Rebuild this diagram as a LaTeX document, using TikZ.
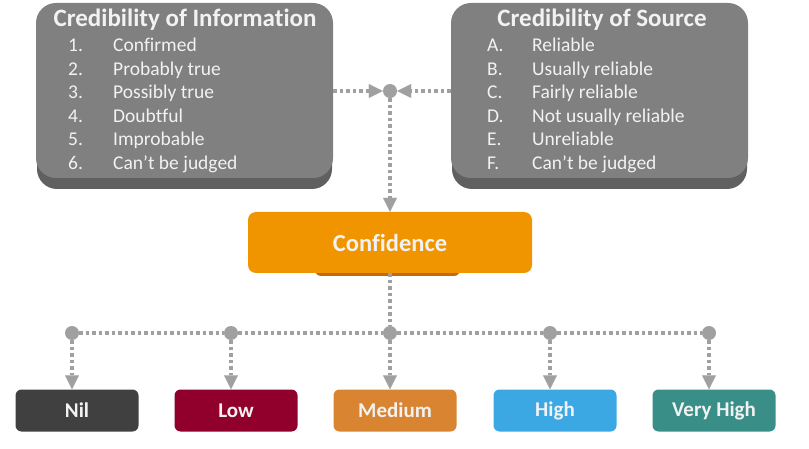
\documentclass[tikz,border=0pt]{standalone}
\usepackage{fontspec}
\setmainfont{Carlito}[Ligatures=NoCommon]
\usetikzlibrary{arrows.meta,positioning}
\definecolor{boxgray}{RGB}{128,128,128}
\definecolor{boxshade}{RGB}{96,96,96}
\definecolor{linkgray}{RGB}{160,160,160}
\definecolor{confcol}{RGB}{240,148,0}
\definecolor{confshade}{RGB}{200,104,0}
\definecolor{nilcol}{RGB}{64,64,64}
\definecolor{lowcol}{RGB}{145,0,45}
\definecolor{medcol}{RGB}{216,132,48}
\definecolor{highcol}{RGB}{59,168,228}
\definecolor{vhcol}{RGB}{58,142,136}
\definecolor{softwhite}{RGB}{242,242,242}
\tikzset{
  credbox/.style={fill=boxgray, rounded corners=20pt, minimum width=297pt, minimum height=175pt, inner sep=0pt},
  heading/.style={text=softwhite, inner sep=0pt, font=\fontsize{25}{25}\selectfont\bfseries},
  entry/.style={text=softwhite, inner sep=0pt, font=\fontsize{19.5}{19.5}\selectfont},
  link/.style={draw=linkgray, line width=3.5pt, dash pattern=on 3.5pt off 3pt},
  arrowed/.style={-{Triangle[length=14pt,width=14pt,line width=0.1pt]}},
  dot/.style={circle, fill=linkgray, minimum size=14pt, inner sep=0pt},
  grade/.style={rounded corners=6pt, minimum width=123pt, minimum height=42pt, text=softwhite, font=\fontsize{21}{21}\selectfont\bfseries}
}
\begin{document}
\begin{tikzpicture}[x=1pt,y=-1pt]
  \useasboundingbox (0,0) rectangle (809,449);
  % the two scales
  \fill[boxshade, rounded corners=20pt] (37,14) rectangle (332,189);
  \fill[boxshade, rounded corners=20pt] (452,14) rectangle (747,189);
  \node[credbox] (info) at (184.5,90.5) {};
  \node[credbox] (source) at (599.5,90.5) {};
  \node[heading, anchor=base] (infohead) at (185,27) {Credibility of Information};
  \node[heading, anchor=base] (sourcehead) at (602,27) {Credibility of Source};
  \foreach \n/\t [count=\i] in {1./Confirmed, 2./Probably true, 3./Possibly true, 4./Doubtful, 5./Improbable, 6./Can’t be judged}{
    \node[entry, anchor=base west] (infonum\i) at (68,{51.5+23.6*(\i-1)}) {\n};
    \node[entry, anchor=base west] (infotxt\i) at (113,{51.5+23.6*(\i-1)}) {\t};
  }
  \foreach \n/\t [count=\i] in {A./Reliable, B./Usually reliable, C./Fairly reliable, D./Not usually reliable, E./Unreliable, F./Can’t be judged}{
    \node[entry, anchor=base west] (srcnum\i) at (487,{51.5+23.6*(\i-1)}) {\n};
    \node[entry, anchor=base west] (srctxt\i) at (532,{51.5+23.6*(\i-1)}) {\t};
  }
  % confidence
  \node[dot] (join) at (390,91) {};
  \fill[confshade, rounded corners=6pt] (315,262) rectangle (460,276);
  \node[fill=confcol, rounded corners=8pt, minimum width=284pt, minimum height=61pt, text=softwhite, font=\fontsize{24.5}{24.5}\selectfont\bfseries] (conf) at (390,242.5) {Confidence};
  \draw[link, arrowed] (info.east |- join) -- (join);
  \draw[link, arrowed] (source.west |- join) -- (join);
  \draw[link, arrowed] (join) -- (conf.north);
  % levels
  \foreach \x/\c/\t [count=\i] in {72/nilcol/Nil, 231/lowcol/Low, 390/medcol/Medium, 550/highcol/High, 709/vhcol/Very High}{
    \node[dot] (d\i) at (\x,333) {};
    \node[grade, fill=\c] (g\i) at (\x+5,410.5) {\t};
    \draw[link, arrowed] (d\i) -- (d\i |- g\i.north);
  }
  \draw[link] (conf.south) -- (d3);
  \draw[link] (d1) -- (d2) -- (d3) -- (d4) -- (d5);
\end{tikzpicture}
\end{document}
